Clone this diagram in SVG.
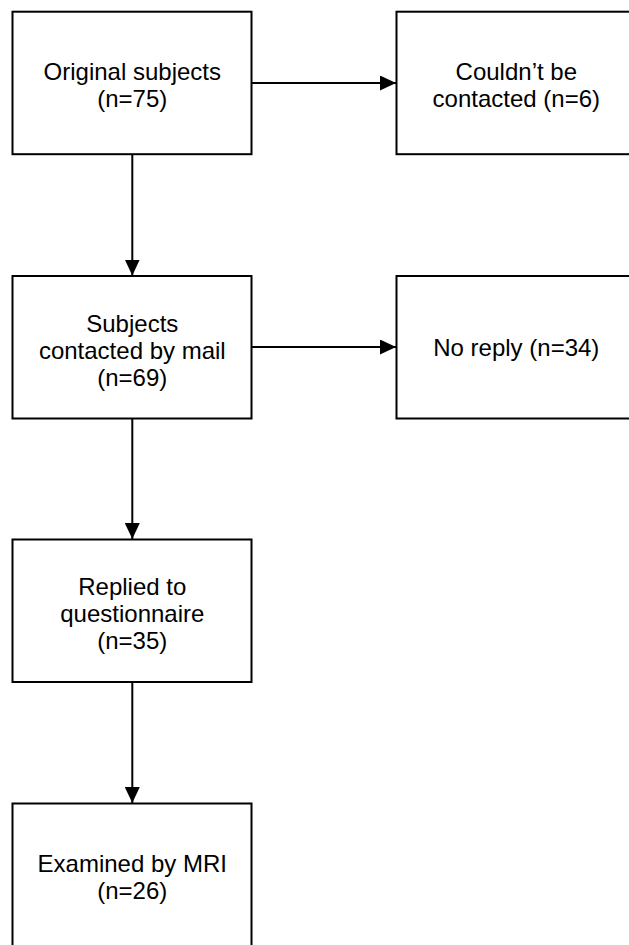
<svg xmlns="http://www.w3.org/2000/svg" width="629" height="945" viewBox="0 0 629 945">
<style>
.box{fill:#fff;stroke:#000;stroke-width:2}
.lbl{font-family:"Liberation Sans",Arial,sans-serif;font-size:24px;fill:#000;text-anchor:middle}
.edge{stroke:#000;stroke-width:2;fill:none}
</style>
<defs>
<marker id="arr" viewBox="0 0 16 15" refX="16" refY="7.5" markerWidth="16" markerHeight="15" markerUnits="userSpaceOnUse" orient="auto">
<path d="M0,0 L16,7.5 L0,15 Z" fill="#000"/>
</marker>
</defs>
<g id="connectors">
<line class="edge" x1="252" y1="83" x2="396" y2="83" marker-end="url(#arr)"/>
<line class="edge" x1="132.3" y1="154" x2="132.3" y2="275.5" marker-end="url(#arr)"/>
<line class="edge" x1="252" y1="347" x2="396" y2="347" marker-end="url(#arr)"/>
<line class="edge" x1="132.3" y1="418" x2="132.3" y2="539" marker-end="url(#arr)"/>
<line class="edge" x1="132.3" y1="682" x2="132.3" y2="803" marker-end="url(#arr)"/>
</g>
<g id="original">
<rect class="box" x="12.5" y="11.7" width="239" height="142.5"/>
<text class="lbl" x="132.3" y="80">Original subjects</text>
<text class="lbl" x="132.3" y="107">(n=75)</text>
</g>
<g id="couldnt">
<rect class="box" x="396.5" y="11.7" width="241" height="142.5"/>
<text class="lbl" x="516.3" y="80">Couldn’t be</text>
<text class="lbl" x="516.3" y="107">contacted (n=6)</text>
</g>
<g id="contacted">
<rect class="box" x="12.5" y="276" width="239" height="142.5"/>
<text class="lbl" x="132.3" y="331.5">Subjects</text>
<text class="lbl" x="132.3" y="358.5">contacted by mail</text>
<text class="lbl" x="132.3" y="385.5">(n=69)</text>
</g>
<g id="noreply">
<rect class="box" x="396.5" y="276" width="241" height="142.5"/>
<text class="lbl" x="516.3" y="356">No reply (n=34)</text>
</g>
<g id="replied">
<rect class="box" x="12.5" y="539.5" width="239" height="142.5"/>
<text class="lbl" x="132.3" y="595">Replied to</text>
<text class="lbl" x="132.3" y="622">questionnaire</text>
<text class="lbl" x="132.3" y="649">(n=35)</text>
</g>
<g id="mri">
<rect class="box" x="12.5" y="803.5" width="239" height="142.5"/>
<text class="lbl" x="132.3" y="872">Examined by MRI</text>
<text class="lbl" x="132.3" y="899">(n=26)</text>
</g>
</svg>
